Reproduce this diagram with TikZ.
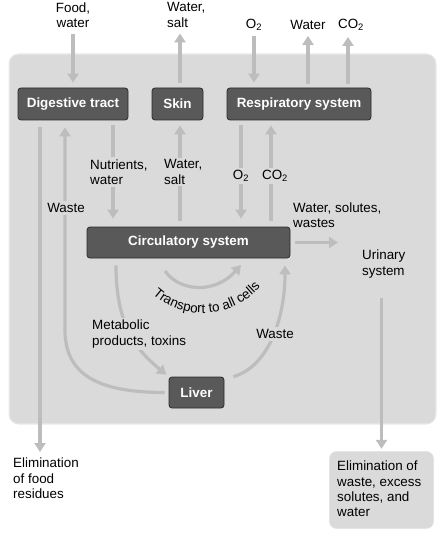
\documentclass[tikz,border=0pt]{standalone}
\usepackage{fontspec}
\setmainfont{Liberation Sans}
\usetikzlibrary{arrows.meta,decorations.text}
\definecolor{panel}{HTML}{DADADA}
\definecolor{panelrim}{HTML}{E6E6E6}
\definecolor{boxfill}{HTML}{595959}
\definecolor{boxline}{HTML}{2B2B2B}
\definecolor{arr}{HTML}{BDBDBD}
\begin{document}
\begin{tikzpicture}[x=1pt,y=-1pt,
  every node/.style={font=\fontsize{13.4}{15.2}\selectfont, inner sep=0pt},
  organ/.style={draw=boxline, fill=boxfill, line width=0.8pt, rounded corners=3pt,
    text=white, font=\fontsize{13.4}{15.2}\selectfont\bfseries, minimum height=32pt},
  lbl/.style={align=left, fill=panel, inner sep=2pt},
  flow/.style={draw=arr, line width=3.2pt, -{Triangle[width=11pt,length=9pt]}}]
\useasboundingbox (0,0) rectangle (444,540);
% panel
\draw[panelrim, line width=3pt, rounded corners=9pt] (10,55) rectangle (435,423);
\fill[panel, rounded corners=8pt] (10,55) rectangle (435,423);
% organ boxes
\node[organ, minimum width=110pt] (dig) at (73,104) {Digestive tract};
\node[organ, minimum width=51pt] (skin) at (177.5,104) {Skin};
\node[organ, minimum width=144pt] (resp) at (299,104) {Respiratory system};
\node[organ, minimum width=203pt, minimum height=31pt] (circ) at (188.5,242.5) {Circulatory system};
\node[organ, minimum width=55pt, minimum height=31pt] (liver) at (196.5,392.5) {Liver};
\draw[panelrim, line width=2pt, rounded corners=7pt] (330,452) rectangle (433,528);
\node[fill=panel, rounded corners=6pt, minimum width=103pt, minimum height=76pt] (elimbox) at (381.5,490) {};
\node[align=left, anchor=west] (elimtxt) at (337,489) {Elimination of\\waste, excess\\solutes, and\\water};
% outside labels
\node[align=center] (food) at (73,15) {Food,\\water};
\node[align=left, anchor=west] (skinout) at (167,15) {Water,\\salt};
\node (o2out) at (254,25) {O\textsubscript{2}};
\node (waterout) at (308,25) {Water};
\node (co2out) at (351,25) {CO\textsubscript{2}};
\node[align=left, anchor=north west] (elimfood) at (13,458) {Elimination\\of food\\residues};
\node[align=left, anchor=north west] (urin) at (362,250) {Urinary\\system};
\node[align=left, anchor=south west] (wsw) at (293,228) {Water, solutes,\\wastes};
% top arrows
\draw[flow, shorten <=6pt, shorten >=5pt] (food.south) -- (dig.north);
\draw[flow, shorten <=5pt, shorten >=6pt] ([xshift=2.5pt]skin.north) -- ([xshift=2.5pt]skin.north |- skinout.south);
\draw[flow, shorten <=5pt, shorten >=5pt] (o2out.south) -- (o2out.south |- resp.north);
\draw[flow, shorten <=4pt, shorten >=6pt] (waterout.south |- resp.north) -- (waterout.south);
\draw[flow, shorten <=4pt, shorten >=6pt] ([xshift=-3pt]co2out.south |- resp.north) -- ([xshift=-3pt]co2out.south);
% digestive tract links
\draw[flow, shorten <=7pt, shorten >=6pt] ([xshift=-33pt]dig.south) -- ([xshift=-33pt]dig.south |- elimfood.north);
\coordinate (wturn) at (65,330);
\draw[flow, shorten <=4pt, shorten >=7pt] (liver.west) .. controls +(-70,0) and +(0,45) .. (wturn) -- ([xshift=-8pt]dig.south);
\draw[flow, shorten <=5pt, shorten >=8pt] ([xshift=40pt]dig.south) -- ([xshift=40pt]dig.south |- circ.north);
% skin and respiratory links
\draw[flow, shorten <=6pt, shorten >=5pt] ([xshift=-8.5pt]circ.north) -- ([xshift=2.5pt]skin.south);
\draw[flow, shorten <=5pt, shorten >=8pt] ([xshift=-58pt]resp.south) -- ([xshift=52.5pt]circ.north);
\draw[flow, shorten <=6pt, shorten >=5pt] ([xshift=82.5pt]circ.north) -- ([xshift=-28pt]resp.south);
% urinary
\draw[flow, shorten <=5pt, shorten >=24pt] (circ.east) -- (circ.east -| urin.west);
\draw[flow, shorten <=20pt, shorten >=3pt] (elimbox.north |- urin.south) -- (elimbox.north);
% transport
\coordinate (t1) at (165,271);
\coordinate (t2) at (241,265);
\draw[flow] (t1) .. controls (180,292) and (215,294) .. (t2);
\path[decorate, decoration={text along path, text align=center,
  text={|\fontsize{13.4}{15.2}\selectfont|Transport to all cells}}]
  (144,284) .. controls (172,324) and (240,324) .. (268,276);
% liver links
\draw[flow, shorten <=7pt, shorten >=3pt] ([xshift=-72.5pt]circ.south) .. controls +(0,70) and +(-30,-25) .. (liver.north west);
\draw[flow, shorten >=7pt] ([xshift=9pt]liver.north east) .. controls +(35,-10) and +(0,60) .. ([xshift=96.5pt]circ.south);
% labels on the connectors
\node[lbl, anchor=west] (nutr) at (88,172) {Nutrients,\\water};
\node[lbl, anchor=west] (skinin) at (162,172) {Water,\\salt};
\node[lbl] (o2in) at (241,176) {O\textsubscript{2}};
\node[lbl] (co2in) at (275,176) {CO\textsubscript{2}};
\node[lbl] (waste1) at (66,208) {Waste};
\node[lbl, anchor=north west] (metab) at (90,318) {Metabolic\\products, toxins};
\node[lbl] (waste2) at (275,334) {Waste};
\end{tikzpicture}
\end{document}
